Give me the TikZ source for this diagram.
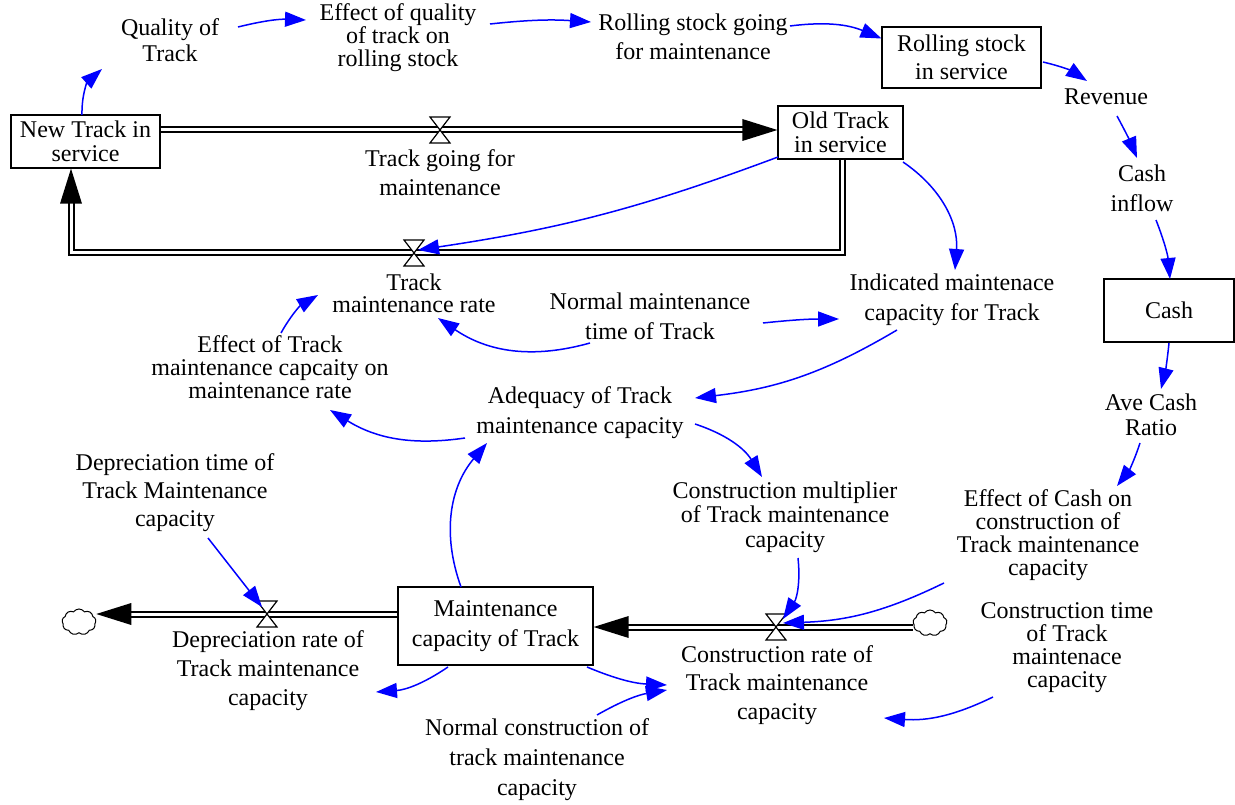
\documentclass[tikz,border=0pt]{standalone}
\usepackage{fontspec}
\setmainfont{Liberation Serif}
\usetikzlibrary{arrows.meta,shapes.symbols,calc}

\begin{document}
\begin{tikzpicture}[x=1pt,y=-1pt,
  every node/.style={font=\fontsize{24}{26}\selectfont, align=center, inner sep=0pt},
  ls/.style={font=\fontsize{24}{#1}\selectfont},
  stock/.style={draw, line width=1.3pt, fill=white},
  link/.style={draw={rgb,255:red,0;green,0;blue,255}, line width=1.5pt,
    -{Triangle[length=21pt,width=15pt]}},
  pipe/.style={draw=black, double=white, double distance=3pt, line width=2pt},
  pipehead/.style={fill=black},
  valveshape/.style={draw=black, line width=1.2pt, fill=white},
  cloudy/.style={cloud, cloud puffs=9, cloud puff arc=110, aspect=1.3, draw,
    line width=1pt, minimum width=34pt, minimum height=26pt, inner sep=0pt},
]
\useasboundingbox (0,0) rectangle (1235,805);

% ---------- stocks ----------
\node[stock, minimum width=149pt, minimum height=53pt, ls=24] (newtrack) at (85.5,141.5) {New Track in\\service};
\node[stock, minimum width=125pt, minimum height=53pt, ls=24] (oldtrack) at (840.5,132.5) {Old Track\\in service};
\node[stock, minimum width=159pt, minimum height=61pt, ls=28] (rolling) at (961.5,57.5) {Rolling stock\\in service};
\node[stock, minimum width=130pt, minimum height=63pt] (cash) at (1169,310.5) {Cash};
\node[stock, minimum width=195pt, minimum height=78pt, ls=30] (maintcap) at (495.5,626) {Maintenance\\capacity of Track};

% ---------- auxiliaries ----------
\node[ls=26] (quality) at (170,40) {Quality of\\Track};
\node[ls=23] (effq) at (398,38) {Effect of quality\\of track on\\rolling stock};
\node[ls=29] (rsgoing) at (693,37) {Rolling stock going\\for maintenance};
\node (revenue) at (1106,97) {Revenue};
\node[ls=30] (cashin) at (1142,188) {Cash\\inflow};
\node[ls=25] (avecash) at (1151,415) {Ave Cash\\Ratio};
\node[ls=23] (effcash) at (1048,535) {Effect of Cash on\\construction of\\Track maintenance\\capacity};
\node[ls=23] (consttime) at (1067,648) {Construction time\\of Track\\maintenace\\capacity};
\node[ls=30] (normmt) at (650,316) {Normal maintenance\\time of Track};
\node[ls=30] (indicated) at (952,300) {Indicated maintenace\\capacity for Track};
\node[ls=23] (efftm) at (270,367) {Effect of Track\\maintenance capcaity on\\maintenance rate};
\node[ls=30] (adequacy) at (580,413) {Adequacy of Track\\maintenance capacity};
\node[ls=28] (deptime) at (175,493) {Depreciation time of\\Track Maintenance\\capacity};
\node[ls=24.5] (constmult) at (785,517) {Construction multiplier\\of Track maintenance\\capacity};
\node[ls=30] (normconst) at (537,760) {Normal construction of\\track maintenance\\capacity};

% ---------- flow labels ----------
\node[ls=29] (tglabel) at (440,173) {Track going for\\maintenance};
\node[ls=22] (tmlabel) at (414,293) {Track\\maintenance rate};
\node[ls=29] (deplabel) at (268,671) {Depreciation rate of\\Track maintenance\\capacity};
\node[ls=28.5] (constlabel) at (777,685) {Construction rate of\\Track maintenance\\capacity};

% ---------- valves, clouds, pipe bends ----------
\coordinate (v1) at (440,130);
\coordinate (v2) at (414,253);
\coordinate (v3) at (267,614);
\coordinate (v4) at (776,627);
\node[cloudy] (c1) at (79,622) {};
\node[cloudy] (c2) at (930,623) {};
\coordinate (tgbase) at (745,130);
\coordinate (tmcorner) at (71,253);
\coordinate (tmbase) at (71,201);
\coordinate (depbase) at (131,614);
\coordinate (conbase) at (628,627);

% ---------- pipes ----------
\draw[pipe] (newtrack.east |- v1) -- (tgbase);
\fill[pipehead] (oldtrack.west |- v1) -- ++(-35,-11) -- ++(0,22) -- cycle;

\draw[pipe] ([xshift=1.5pt]oldtrack.south) |- (tmcorner) -- (tmbase);
\fill[pipehead] (newtrack.south -| tmcorner) -- ++(-11,35) -- ++(22,0) -- cycle;

\draw[pipe] (maintcap.west |- v3) -- (depbase);
\fill[pipehead] (c1.east |- v3) -- ++(35,-11) -- ++(0,22) -- cycle;

\draw[pipe] (c2.west |- v4) -- (conbase);
\fill[pipehead] (maintcap.east |- v4) -- ++(35,-11) -- ++(0,22) -- cycle;

% valves
\foreach \v in {v1,v2,v3,v4}
  \draw[valveshape] ([shift={(-10,-13)}]\v) -- ([shift={(10,-13)}]\v)
    -- ([shift={(-10,13)}]\v) -- ([shift={(10,13)}]\v) -- cycle;

% ---------- information links ----------
\draw[link] ([shift={(-3.5,-26.5)}]newtrack.center) to[bend left=25] ([shift={(-68,29)}]quality.center);
\draw[link] ([shift={(68,-13)}]quality.center) to[bend left=8] ([shift={(-92,-18)}]effq.center);
\draw[link] ([shift={(92,-14)}]effq.center) to[bend left=5] ([shift={(-102,-15)}]rsgoing.center);
\draw[link] ([shift={(97,-11)}]rsgoing.center) to[bend left=15] ([shift={(-80,-19)}]rolling.center);
\draw[link] ([shift={(81.5,4.5)}]rolling.center) to[bend left=10] ([shift={(-19,-16)}]revenue.center);
\draw[link] ([shift={(11,19)}]revenue.center) to[bend left=3] ([shift={(-5,-30)}]cashin.center);
\draw[link] ([shift={(14,32)}]cashin.center) to[bend left=8] ([shift={(1,-31.5)}]cash.center);
\draw[link] ([shift={(0,32.5)}]cash.center) to[bend left=4] ([shift={(10,-26)}]avecash.center);
\draw[link] ([shift={(-11,28)}]avecash.center) to[bend left=10] ([shift={(69,-49)}]effcash.center);
\draw[link] ([shift={(-104,48)}]effcash.center) to[bend left=12] ([shift={(7,-4)}]v4);
\draw[link] ([shift={(-74,49)}]consttime.center) to[bend left=15] ([shift={(107,33)}]constlabel.center);
\draw[link] ([shift={(-62.5,24.5)}]oldtrack.center) to[bend left=6] ([shift={(4,-3)}]v2);
\draw[link] ([shift={(62.5,29.5)}]oldtrack.center) to[bend left=30] ([shift={(3,-30)}]indicated.center);
\draw[link] ([shift={(-60,27)}]normmt.center) to[bend left=25] ([shift={(24,25)}]tmlabel.center);
\draw[link] ([shift={(113,7)}]normmt.center) to[bend left=3] ([shift={(-113,19)}]indicated.center);
\draw[link] ([shift={(-55,30)}]indicated.center) to[bend left=12] ([shift={(115,-15)}]adequacy.center);
\draw[link] ([shift={(-115,25)}]adequacy.center) to[bend left=20] ([shift={(60,43)}]efftm.center);
\draw[link] ([shift={(11,-34)}]efftm.center) to[bend left=15] ([shift={(-96,2)}]tmlabel.center);
\draw[link] ([shift={(115,11)}]adequacy.center) to[bend left=20] ([shift={(-23,-40)}]constmult.center);
\draw[link] ([shift={(13,41)}]constmult.center) to[bend left=20] ([shift={(7,-8)}]v4);
\draw[link] ([shift={(-34.5,-39)}]maintcap.center) to[bend left=30] ([shift={(-93,30)}]adequacy.center);
\draw[link] ([shift={(33,45)}]deptime.center) -- ([shift={(-5,-7)}]v3);
\draw[link] ([shift={(-47.5,41)}]maintcap.center) to[bend left=15] ([shift={(108,21)}]deplabel.center);
\draw[link] ([shift={(91.5,41)}]maintcap.center) to[bend right=10] ([shift={(-110,0)}]constlabel.center);
\draw[link] ([shift={(60,-45)}]normconst.center) to[bend left=10] ([shift={(-110,5)}]constlabel.center);
\end{tikzpicture}
\end{document}
